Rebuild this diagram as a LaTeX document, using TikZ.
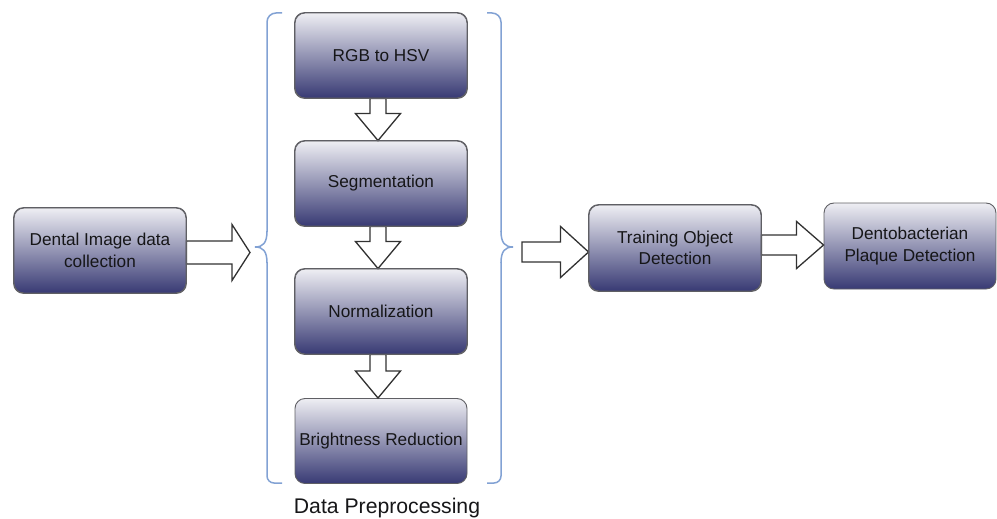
\documentclass[tikz,border=0pt]{standalone}
\usepackage{fontspec}
\setmainfont{Liberation Sans}
\usetikzlibrary{calc}
\definecolor{boxtop}{RGB}{238,238,243}
\definecolor{boxbot}{RGB}{56,58,116}
\definecolor{boxline}{RGB}{95,95,100}
\definecolor{txt}{RGB}{22,22,24}
\definecolor{arrline}{RGB}{50,50,50}
\definecolor{bracecol}{RGB}{130,162,212}
\tikzset{
  procbox/.style={draw=boxline, line width=0.9pt, rounded corners=10pt,
    top color=boxtop, bottom color=boxbot, minimum width=172pt, minimum height=85pt,
    inner sep=0pt, align=center, text=txt, font=\fontsize{17.2}{21.5}\selectfont},
  blockarrow/.style={draw=arrline, fill=white, line width=1.3pt, line join=miter},
  bracestyle/.style={draw=bracecol, line width=1.5pt},
  caption/.style={text=txt, font=\fontsize{21.2}{24}\selectfont, inner sep=0pt}
}
\newcommand{\hblockarrow}[5]{%
  \draw[blockarrow] let \p1=(#1), \p2=(#2) in
    (\x1,\y1+#3pt) -- (\x2-#5pt,\y1+#3pt) -- (\x2-#5pt,\y1+#4pt) -- (\x2,\y1)
    -- (\x2-#5pt,\y1-#4pt) -- (\x2-#5pt,\y1-#3pt) -- (\x1,\y1-#3pt) -- cycle;}
\newcommand{\vblockarrow}[5]{%
  \draw[blockarrow] let \p1=(#1), \p2=(#2) in
    (\x1-#3pt,\y1) -- (\x1-#3pt,\y2+#5pt) -- (\x1-#4pt,\y2+#5pt) -- (\x1,\y2)
    -- (\x1+#4pt,\y2+#5pt) -- (\x1+#3pt,\y2+#5pt) -- (\x1+#3pt,\y1) -- cycle;}
\begin{document}
\begin{tikzpicture}[x=1pt,y=-1pt]
\useasboundingbox (0,0) rectangle (997,519);
% boxes
\node[procbox] (dental) at (100,250.5) {Dental Image data\\collection};
\node[procbox] (rgb) at (381,55.5) {RGB to HSV};
\node[procbox] (seg) at (381,183.5) {Segmentation};
\node[procbox] (norm) at (381,311.5) {Normalization};
\node[procbox] (bright) at (381,441) {Brightness Reduction};
\node[procbox, minimum height=86pt] (train) at (675,248) {Training Object\\Detection};
\node[procbox, minimum height=86pt] (dento) at (910,246) {Dentobacterian\\Plaque Detection};
\node[caption] (cap) at (387,508) {Data Preprocessing};
% braces
\coordinate (ltip) at (255,247);
\coordinate (rtip) at (513,247);
\draw[bracestyle, rounded corners=9pt] (282,13) -- (267,13) -- (267,232);
\draw[bracestyle] (267,231) .. controls (267,243) and (263,247) .. (ltip)
  .. controls (263,247) and (267,251) .. (267,263);
\draw[bracestyle, rounded corners=7pt] (267,262) -- (267,483) -- (282,483);
\draw[bracestyle, rounded corners=9pt] (487,13) -- (501,13) -- (501,232);
\draw[bracestyle] (501,231) .. controls (501,243) and (505,247) .. (rtip)
  .. controls (505,247) and (501,251) .. (501,263);
\draw[bracestyle, rounded corners=7pt] (501,262) -- (501,483) -- (487,483);
% arrows
\coordinate (a1e) at ($(ltip)+(-5,0)$);
\hblockarrow{$(dental.east)+(0,2)$}{a1e}{11.5}{28}{18}
\coordinate (a3s) at ($(rtip)+(9,5)$);
\hblockarrow{a3s}{train.west}{10}{25.5}{28}
\hblockarrow{$(train.east)+(0,-3)$}{dento.west}{10}{23.5}{27}
\vblockarrow{$(rgb.south)+(-3,0)$}{seg.north}{8}{22.5}{27}
\vblockarrow{$(seg.south)+(-3,0)$}{norm.north}{8}{22.5}{27}
\vblockarrow{$(norm.south)+(-3,0)$}{bright.north}{8}{22.5}{27}
% redraw box borders over arrow bases
\foreach \n in {dental,rgb,seg,norm,train}{
  \draw[boxline, line width=0.9pt, rounded corners=10pt]
    (\n.north west) rectangle (\n.south east);
}
\end{tikzpicture}
\end{document}
